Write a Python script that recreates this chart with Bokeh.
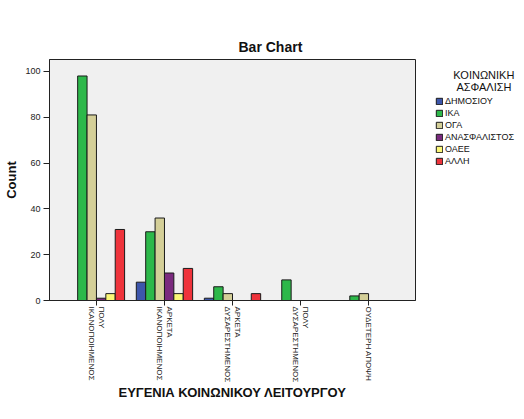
import math
from bokeh.plotting import figure
from bokeh.layouts import row
from bokeh.models import (ColumnDataSource, Range1d, FixedTicker, Legend, LegendItem, Title)
from bokeh.embed import file_html
from bokeh.resources import INLINE

categories = ["ΠΟΛΥ\nΙΚΑΝΟΠΟΙΗΜΕΝΟΣ", "ΑΡΚΕΤΑ\nΙΚΑΝΟΠΟΙΗΜΕΝΟΣ", "ΑΡΚΕΤΑ\nΔΥΣΑΡΕΣΤΗΜΕΝΟΣ",
              "ΠΟΛΥ\nΔΥΣΑΡΕΣΤΗΜΕΝΟΣ", "ΟΥΔΕΤΕΡΗ ΑΠΟΨΗ"]
series_names = ["ΔΗΜΟΣΙΟΥ", "ΙΚΑ", "ΟΓΑ", "ΑΝΑΣΦΑΛΙΣΤΟΣ", "ΟΑΕΕ", "ΑΛΛΗ"]
dimosiou = [0, 8, 1, 0, 0]
ika = [98, 30, 6, 9, 2]
oga = [81, 36, 3, 0, 3]
anasfalistos = [1, 12, 0, 0, 0]
oaee = [3, 3, 0, 0, 0]
alli = [31, 14, 3, 0, 0]
y_ticks = [0, 20, 40, 60, 80, 100]

series_values = [dimosiou, ika, oga, anasfalistos, oaee, alli]
colors = ["#3D56AB", "#2DB84A", "#D4CF98", "#7A2A7E", "#FBF777", "#EE333B"]

FONT = "Liberation Sans"
NB = "\u00a0"

p = figure(width=425, height=403, output_backend="svg", toolbar_location=None,
           x_range=Range1d(-0.69, 4.69), y_range=Range1d(0, 105.2),
           min_border_left=49, min_border_top=59, min_border_bottom=102, min_border_right=10)
p.background_fill_color = "#F0F0F0"
p.border_fill_color = "white"
p.outline_line_color = "#222222"
p.outline_line_width = 1
p.xgrid.visible = False
p.ygrid.visible = False

bw = 0.138
sources = []
for k, (name, vals, c) in enumerate(zip(series_names, series_values, colors)):
    xs = [i + (k - 2.5) * bw for i in range(len(categories))]
    src = ColumnDataSource(dict(x=xs, top=vals))
    sources.append(src)
    p.vbar(x="x", top="top", width=bw, bottom=0, source=src, fill_color=c,
           line_color="#1a1a1a", line_width=1)

p.xaxis[0].ticker = FixedTicker(ticks=list(range(len(categories))))
p.xaxis[0].major_label_overrides = {i: c for i, c in enumerate(categories)}
p.xaxis[0].major_label_orientation = -math.pi / 2
p.yaxis[0].ticker = FixedTicker(ticks=y_ticks)
for ax in (p.xaxis[0], p.yaxis[0]):
    ax.minor_tick_line_color = None
    ax.major_tick_in = 0
    ax.axis_line_color = "#222222"
    ax.major_tick_line_color = "#222222"
    ax.major_label_text_font = FONT
    ax.major_label_text_font_size = "9px"
    ax.major_label_text_color = "#222222"
    ax.axis_label_text_font = FONT
    ax.axis_label_text_font_size = "13px"
    ax.axis_label_text_font_style = "bold"
    ax.axis_label_text_color = "#111111"
p.xaxis[0].major_tick_out = 5
p.yaxis[0].major_tick_out = 6
p.xaxis[0].major_label_text_font_size = "8px"
p.xaxis[0].major_label_standoff = 1
p.yaxis[0].major_label_standoff = 3
p.xaxis[0].axis_label = "ΕΥΓΕΝΙΑ ΚΟΙΝΩΝΙΚΟΥ ΛΕΙΤΟΥΡΓΟΥ"
p.yaxis[0].axis_label = "Count"
p.xaxis[0].axis_label_standoff = 0
p.yaxis[0].axis_label_standoff = 3

# real title first, then a blank spacer title between it and the frame
p.add_layout(Title(text="Bar Chart", align="left", offset=189, text_font=FONT,
                   text_font_size="14px", text_font_style="bold", text_color="#111111"), "above")
p.add_layout(Title(text=NB, text_font=FONT, text_font_size="9px", standoff=0), "above")

# legend panel
q = figure(width=91, height=403, output_backend="svg", toolbar_location=None,
           x_range=Range1d(-0.69, 4.69), y_range=Range1d(0, 105.2),
           x_axis_type=None, y_axis_type=None,
           min_border_left=0, min_border_right=0, min_border_bottom=0, min_border_top=50)
q.outline_line_color = None
q.background_fill_color = "white"
q.border_fill_color = "white"
q.xgrid.visible = False
q.ygrid.visible = False
items = []
for name, c, src in zip(series_names, colors, sources):
    r = q.vbar(x="x", top="top", width=bw, bottom=0, source=src, fill_color=c,
               line_color="#1a1a1a", line_width=1, visible=False)
    items.append(LegendItem(label=name, renderers=[r]))

legend = Legend(items=items, title=NB * 6 + "ΚΟΙΝΩΝΙΚΗ\n" + NB * 7 + "ΑΣΦΑΛΙΣΗ", location="top_left")
legend.title_text_font = FONT
legend.title_text_font_size = "11px"
legend.title_text_line_height = 1.05
legend.title_text_font_style = "normal"
legend.title_text_color = "#111111"
legend.label_text_font = FONT
legend.label_text_font_size = "9px"
legend.label_text_color = "#111111"
legend.glyph_width = 8
legend.glyph_height = 8
legend.label_height = 10
legend.spacing = 2
legend.padding = 0
legend.margin = 10
legend.border_line_color = None
legend.background_fill_color = None
legend.inactive_fill_alpha = 0
legend.label_standoff = 2
legend.title_standoff = 3
q.add_layout(legend, "center")

open("out.html", "w").write(file_html(row(p, q), INLINE))
